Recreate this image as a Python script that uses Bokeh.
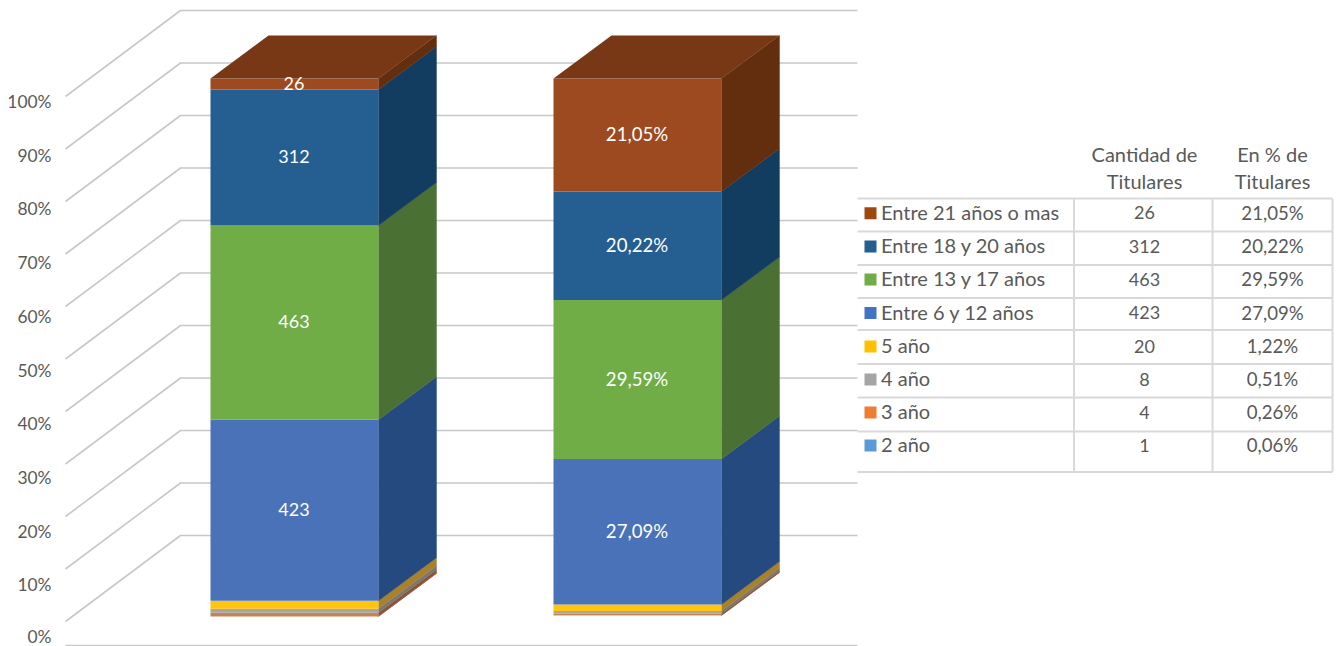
from bokeh.embed import file_html
from bokeh.models import FixedTicker, Range1d
from bokeh.plotting import figure
from bokeh.resources import INLINE
from bokeh.core.properties import value

# ---- data ----
categories = ["2 año", "3 año", "4 año", "5 año", "Entre 6 y 12 años",
              "Entre 13 y 17 años", "Entre 18 y 20 años", "Entre 21 años o mas"]
count_labels = ["1", "4", "8", "20", "423", "463", "312", "26"]
pct_labels = ["0,06%", "0,26%", "0,51%", "1,22%", "27,09%", "29,59%", "20,22%", "21,05%"]
bar_counts_heights = [0.08, 0.62, 0.74, 1.49, 33.64, 36.06, 25.28, 2.05]   # as drawn, % of the column
bar_pct_heights = [0.06, 0.26, 0.51, 1.22, 27.09, 29.59, 20.22, 21.05]
labelled_from = 4
tick_values = [0, 10, 20, 30, 40, 50, 60, 70, 80, 90, 100]
tick_labels = ["0%", "10%", "20%", "30%", "40%", "50%", "60%", "70%", "80%", "90%", "100%"]
header_count = ["Cantidad de", "Titulares"]
header_pct = ["En % de", "Titulares"]

# ---- styles ----
swatch = ["#5B9BD5", "#ED7D31", "#A5A5A5", "#FFC000", "#4472C4", "#70AD47", "#255E91", "#9E480E"]
front = ["#C5835A", "#C5835A", "#ADA49A", "#FFC50F", "#4A72B8", "#70AD47", "#255E91", "#9E4A20"]
side = ["#8E5030", "#8E5030", "#777777", "#A8812A", "#244A80", "#4A7033", "#123D60", "#622E0D"]
top_colour = "#793815"
grid_colour = "#C8C8C8"
rule_colour = "#D9D9D9"
text_colour = "#595959"
font = value("Lato")
NUM = "18px"
PCT = "18.6px"
NAME = "20px"


def py(pixel):
    """Page row to value on the percent axis."""
    return (638 - pixel) / 5.37


p = figure(width=1337, height=646, output_backend="svg", toolbar_location=None,
           x_range=Range1d(55, 1337), y_range=Range1d(py(646), py(0)),
           min_border_left=55, min_border_right=0, min_border_top=0, min_border_bottom=0,
           x_axis_location=None, outline_line_color=None, margin=(0, 0, 0, 0))
p.xgrid.visible = False
p.ygrid.visible = False
ax = p.yaxis[0]
ax.ticker = FixedTicker(ticks=tick_values)
ax.major_label_overrides = {t: s for t, s in zip(tick_values, tick_labels)}
ax.axis_line_color = None
ax.major_tick_line_color = None
ax.minor_tick_line_color = None
ax.major_tick_out = 0
ax.major_tick_in = 0
ax.major_label_standoff = 4
ax.major_label_text_font = "Lato"
ax.major_label_text_font_size = "17.4px"
ax.major_label_text_color = text_colour

# ---- walls ----
wall_front_x, wall_back_x, wall_end_x = 65, 180, 857
gx, gy = [], []
for t in tick_values:
    k = (100 - t) / 10
    gx.append([wall_front_x, wall_back_x, wall_end_x])
    gy.append([py(96 + 52.5 * k), py(10 + 52.5 * k), py(10 + 52.5 * k)])
gx.append([wall_front_x, wall_end_x])
gy.append([py(645), py(645)])
p.multi_line(gx, gy, line_color=grid_colour, line_width=1.6)

# ---- columns ----
BAR_W = 168
DX = 58
DY = 43 / 5.37
TOP_ROW = 78
LABEL_LIFT = 1 / 5.37


def draw_bar(left, heights, labels, size, bottom_row):
    base = py(bottom_row)
    scale = (py(TOP_ROW) - base) / sum(heights)
    qt, qb, fills = [], [], []
    sx, sy, sf = [], [], []
    right = left + BAR_W
    cum = 0.0
    lx, ly, lt = [], [], []
    for i, h in enumerate(heights):
        b = base + cum * scale
        t = base + (cum + h) * scale
        qb.append(b)
        qt.append(t)
        fills.append(front[i])
        sx.append([right, right + DX, right + DX, right])
        sy.append([b, b + DY, t + DY, t])
        sf.append(side[i])
        if i >= labelled_from:
            lx.append(left + BAR_W / 2 - 0.5)
            ly.append((b + t) / 2 + LABEL_LIFT)
            lt.append(labels[i])
        cum += h
    top = base + cum * scale
    p.patches(sx, sy, fill_color=sf, line_color=sf, line_width=0.4)
    p.quad(left=left, right=right, bottom=qb, top=qt, fill_color=fills, line_color=None)
    p.patch([left, right, right + DX, left + DX], [top, top, top + DY, top + DY],
            fill_color=top_colour, line_color=None)
    p.text(lx, ly, text=lt, text_color="#FFFFFF", text_align="center", text_baseline="middle",
           text_font=font, text_font_size=size)


draw_bar(210, bar_counts_heights, count_labels, NUM, 616)
draw_bar(553, bar_pct_heights, pct_labels, PCT, 615)

# ---- table with legend ----
row_lines = [198, 231, 264.5, 297.5, 329.5, 363.5, 397, 431, 471.5]
row_text = [212.7, 246, 279, 312.5, 346, 379, 412, 445]
col_lines = [1073.5, 1212, 1332]
table_left = 857
col_centre = [1144, 1272]
name_x = 880.5
sw_left, sw_size = 864, 12

p.multi_line([[table_left, col_lines[-1]] for _ in row_lines],
             [[py(r), py(r)] for r in row_lines], line_color=rule_colour, line_width=2)
p.multi_line([[c, c] for c in col_lines],
             [[py(row_lines[0]), py(row_lines[-1])] for _ in col_lines], line_color=rule_colour, line_width=2)

rows = list(range(len(categories)))[::-1]
rs = [row_text[j] for j in range(len(rows))]
p.quad(left=sw_left, right=sw_left + sw_size,
       top=[py(r - sw_size / 2) for r in rs], bottom=[py(r + sw_size / 2) for r in rs],
       fill_color=[swatch[i] for i in rows], line_color=None)
common = dict(text_color=text_colour, text_baseline="middle", text_font=font)
p.text([name_x] * 8, [py(r - 1.5) for r in rs], text=[categories[i] for i in rows], text_align="left",
       text_font_size=NAME, **common)
p.text([col_centre[0]] * 8, [py(r - 0.5) for r in rs], text=[count_labels[i] for i in rows], text_align="center",
       text_font_size=NUM, **common)
p.text([col_centre[1]] * 8, [py(r - 0.5) for r in rs], text=[pct_labels[i] for i in rows], text_align="center",
       text_font_size=PCT, **common)
head_rows = [153, 180]
p.text([col_centre[0]] * 2, [py(r) for r in head_rows], text=header_count, text_align="center",
       text_font_size=NAME, **common)
p.text([col_centre[1]] * 2, [py(r) for r in head_rows], text=header_pct, text_align="center",
       text_font_size=NAME, **common)

open("out.html", "w").write(file_html(p, INLINE))
